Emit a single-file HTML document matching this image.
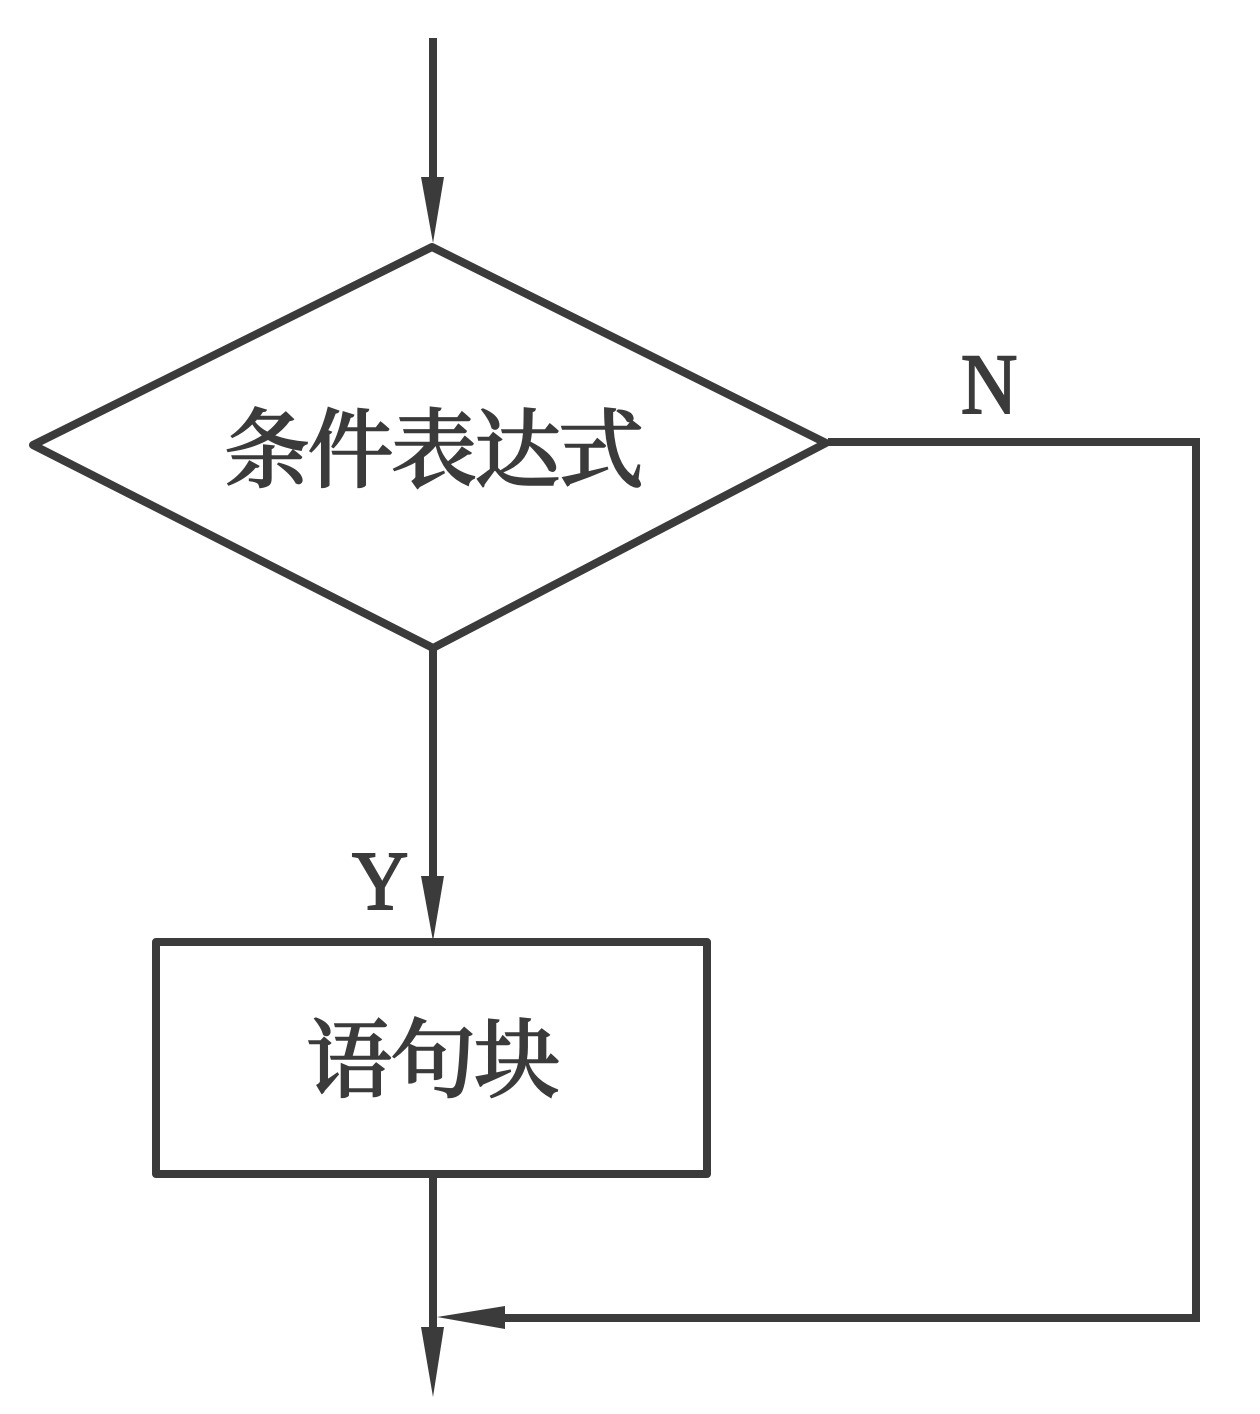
<!DOCTYPE html>
<html lang="zh">
<head>
<meta charset="utf-8">
<style>
html,body{margin:0;padding:0;background:#fff;}
body{width:1260px;height:1414px;overflow:hidden;}
svg{display:block;}
text{fill:#3b3b3b;stroke:#3b3b3b;}
.cjk{font-family:"Noto Serif CJK SC","Liberation Serif",serif;font-size:86px;font-weight:500;stroke-width:1.6px;}
.lat{font-family:"Liberation Serif","Noto Serif CJK SC",serif;font-size:78px;stroke-width:1.8px;}
</style>
</head>
<body>
<svg width="1260" height="1414" viewBox="0 0 1260 1414" xmlns="http://www.w3.org/2000/svg">
<g fill="none" stroke="#3b3b3b" stroke-width="8" stroke-linejoin="round" stroke-linecap="round">
<path d="M433 38V180" stroke-linecap="butt"/>
<path d="M432 247L826 443L433 648L33 445Z"/>
<path d="M433 650V880" stroke-linecap="butt"/>
<rect x="156" y="942" width="551" height="232"/>
<path d="M433 1175V1330" stroke-linecap="butt"/>
<path d="M828 442H1196V1318H500" stroke-linejoin="miter" stroke-linecap="butt"/>
</g>
<g fill="#3b3b3b">
<path d="M421 177H444L433 243Z"/>
<path d="M421 876H444L433 941Z"/>
<path d="M421 1327H444L433 1397Z"/>
<path d="M437 1317L505 1306V1329Z"/>
</g>
<text class="cjk" x="224" y="480" textLength="420" lengthAdjust="spacing">条件表达式</text>
<text class="cjk" x="306" y="1090" textLength="254" lengthAdjust="spacing">语句块</text>
<text class="lat" transform="translate(961 413) scale(1 1.1)" x="0" y="0">N</text>
<text class="lat" transform="translate(352 909) scale(1 1.07)" x="0" y="0">Y</text>
</svg>
</body>
</html>
